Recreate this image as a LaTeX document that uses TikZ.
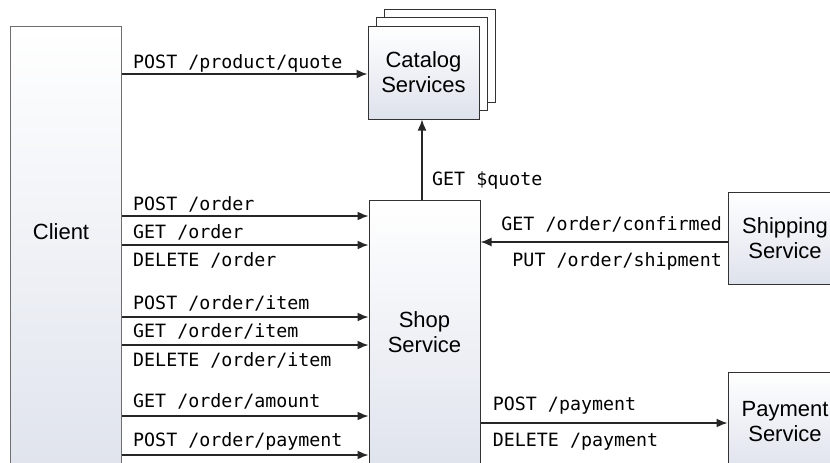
\documentclass[tikz,border=0pt]{standalone}
\usepackage{fontspec}
\setmainfont{Liberation Sans}
\newfontfamily\monof{DejaVu Sans Mono}
\usetikzlibrary{arrows.meta}
\definecolor{boxbot}{RGB}{222,226,236}
\definecolor{boxline}{RGB}{50,50,50}
\definecolor{clientline}{RGB}{110,110,110}
\tikzset{
  svcbox/.style={draw=boxline, line width=1pt, rectangle, top color=white, bottom color=boxbot,
    minimum width=111pt, inner sep=0pt, align=center, font=\fontsize{22}{25}\selectfont},
  backbox/.style={draw=boxline, line width=1pt, fill=white, rectangle, minimum width=111pt, minimum height=93pt, inner sep=0pt},
  boxtext/.style={align=center, inner sep=0pt, font=\fontsize{22}{25}\selectfont},
  lbl/.style={inner sep=0pt, font=\monof\fontsize{18.3}{20}\selectfont},
  arr/.style={draw=black!85, line width=1.6pt, -{Latex[length=11pt,width=9pt]}}
}
\begin{document}
\begin{tikzpicture}[x=1pt,y=-1pt]
\useasboundingbox (0,0) rectangle (830,463);
\clip (0,0) rectangle (830,463);
% boxes
\node[svcbox, draw=clientline, minimum height=470pt] (client) at (65.5,261) {};
\node[boxtext] (clienttxt) at (61,232) {Client};
\node[svcbox, minimum height=280pt] (shop) at (424.5,340) {};
\node[boxtext] (shoptxt) at (424.5,332) {Shop\\Service};
\node[backbox] (cat2) at (439.5,55.5) {};
\node[backbox] (cat1) at (431.5,64) {};
\node[svcbox, minimum height=93pt] (cat) at (423.5,72.5) {Catalog\\Services};
\node[svcbox, minimum width=114pt, minimum height=92pt] (ship) at (785,238) {Shipping\\Service};
\node[svcbox, minimum width=114pt, minimum height=100pt] (pay) at (785,422) {Payment\\Service};
% client -> catalog
\draw[arr] (client.east |- 0,74) -- (cat.west |- 0,74);
\node[lbl, anchor=base west] (l1) at (133,68.3) {POST /product/quote};
% client -> shop
\draw[arr] (client.east |- 0,216) -- (shop.west |- 0,216);
\draw[arr] (client.east |- 0,245) -- (shop.west |- 0,245);
\draw[arr] (client.east |- 0,317) -- (shop.west |- 0,317);
\draw[arr] (client.east |- 0,345) -- (shop.west |- 0,345);
\draw[arr] (client.east |- 0,416) -- (shop.west |- 0,416);
\draw[arr] (client.east |- 0,455) -- (shop.west |- 0,455);
\node[lbl, anchor=base west] (l2) at (133,210) {POST /order};
\node[lbl, anchor=base west] (l3) at (133,238) {GET /order};
\node[lbl, anchor=base west] (l4) at (133,266.7) {DELETE /order};
\node[lbl, anchor=base west] (l5) at (133,309) {POST /order/item};
\node[lbl, anchor=base west] (l6) at (133,337.7) {GET /order/item};
\node[lbl, anchor=base west] (l7) at (133,366.7) {DELETE /order/item};
\node[lbl, anchor=base west] (l8) at (133,407) {GET /order/amount};
\node[lbl, anchor=base west] (l9) at (133,446.7) {POST /order/payment};
% shop -> catalog
\draw[arr] (shop.north -| 422,0) -- (cat.south -| 422,0);
\node[lbl, anchor=base west] (l10) at (432,185) {GET \$quote};
% shipping -> shop
\draw[arr] (ship.west |- 0,242) -- (shop.east |- 0,242);
\node[lbl, anchor=base east] (l11) at (722,230.7) {GET /order/confirmed};
\node[lbl, anchor=base east] (l12) at (722,266) {PUT /order/shipment};
% shop -> payment
\draw[arr] (shop.east |- 0,423) -- (pay.west |- 0,423);
\node[lbl, anchor=base west] (l13) at (492.7,410.7) {POST /payment};
\node[lbl, anchor=base west] (l14) at (492.7,446) {DELETE /payment};
\end{tikzpicture}
\end{document}
